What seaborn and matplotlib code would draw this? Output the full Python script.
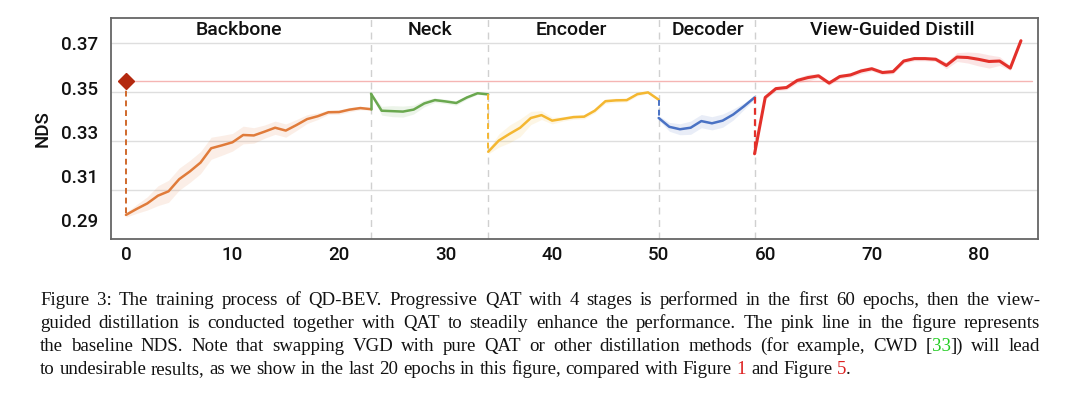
import re
import matplotlib
matplotlib.use('Agg')
import matplotlib.pyplot as plt
import seaborn as sns

# ---- data ----
baseline_nds = 0.353

backbone_epoch = list(range(0, 24))
backbone_nds = [0.2923, 0.2950, 0.2975, 0.3010, 0.3030, 0.3085, 0.3120, 0.3160,
                0.3225, 0.3238, 0.3252, 0.3285, 0.3283, 0.3300, 0.3318, 0.3305,
                0.3330, 0.3357, 0.3370, 0.3388, 0.3389, 0.3400, 0.3407, 0.3402]
backbone_band = [0.001, 0.002, 0.003, 0.0045, 0.005, 0.005, 0.005, 0.005,
                 0.005, 0.0045, 0.004, 0.004, 0.0035, 0.003, 0.003, 0.003,
                 0.0025, 0.002, 0.0015, 0.001, 0.001, 0.001, 0.0008, 0.0005]

neck_epoch = list(range(23, 35))
neck_nds = [0.3472, 0.3395, 0.3393, 0.3391, 0.3400, 0.3428, 0.3443, 0.3437,
            0.3430, 0.3455, 0.3474, 0.3469]
neck_band = [0.0005, 0.002, 0.0025, 0.0025, 0.002, 0.0015, 0.001, 0.001,
             0.001, 0.0008, 0.0005, 0.0005]

encoder_epoch = list(range(34, 51))
encoder_nds = [0.3209, 0.3260, 0.3290, 0.3318, 0.3362, 0.3375, 0.3350, 0.3358,
               0.3366, 0.3368, 0.3395, 0.3438, 0.3442, 0.3443, 0.3470, 0.3478, 0.3445]
encoder_band = [0.001, 0.003, 0.004, 0.004, 0.003, 0.002, 0.0015, 0.001,
                0.001, 0.001, 0.001, 0.001, 0.001, 0.0008, 0.0008, 0.0005, 0.0005]

decoder_epoch = list(range(50, 60))
decoder_nds = [0.3362, 0.3322, 0.3311, 0.3318, 0.3348, 0.3338, 0.3350, 0.3378,
               0.3415, 0.3455]
decoder_band = [0.001, 0.002, 0.0025, 0.003, 0.003, 0.003, 0.003, 0.0025,
                0.0015, 0.0008]

vgd_epoch = list(range(59, 85))
vgd_nds = [0.3200, 0.3455, 0.3495, 0.3500, 0.3532, 0.3545, 0.3553, 0.3520,
           0.3550, 0.3557, 0.3575, 0.3585, 0.3568, 0.3572, 0.3620, 0.3631,
           0.3631, 0.3628, 0.3600, 0.3638, 0.3636, 0.3628, 0.3618, 0.3620,
           0.3588, 0.3712]
vgd_band = [0.0005, 0.001, 0.001, 0.001, 0.0012, 0.0015, 0.001, 0.001,
            0.001, 0.001, 0.0012, 0.001, 0.001, 0.001, 0.001, 0.001,
            0.001, 0.001, 0.0015, 0.002, 0.0025, 0.003, 0.003, 0.002,
            0.001, 0.0005]

stage_names = ['Backbone', 'Neck', 'Encoder', 'Decoder', 'View-Guided Distill']
stage_label_x = [10.6, 28.5, 41.8, 54.6, 71.9]
stage_bounds = [23, 34, 50, 59]
y_ticks = [0.29, 0.31, 0.33, 0.35, 0.37]
grid_y = [0.37, 0.3478, 0.3256, 0.3034]
x_ticks = [0, 10, 20, 30, 40, 50, 60, 70, 80]

caption_lines = [
    "Figure 3: The training process of QD-BEV. Progressive QAT with 4 stages is performed in the first 60 epochs, then the view-",
    "guided distillation is conducted together with QAT to steadily enhance the performance. The pink line in the figure represents",
    "the baseline NDS. Note that swapping VGD with pure QAT or other distillation methods (for example, CWD [{g:33}]) will lead",
    "to undesirable results, as we show in the last 20 epochs in this figure, compared with Figure {r:1} and Figure {r:5}.",
]

colors = {
    'orange': '#e07b3a', 'green': '#6aa84f', 'yellow': '#f4b731',
    'blue': '#4a72c4', 'red': '#e3302a',
}

# ---- plotting ----
sns.set_style('white')
plt.rcParams['font.family'] = ['Roboto', 'Liberation Sans', 'DejaVu Sans']
plt.rcParams['font.weight'] = 'medium'

fig = plt.figure(figsize=(10.8, 4.05), dpi=100)
ax = fig.add_axes([0.1028, 0.4099, 0.8583, 0.5457])

for gy in grid_y:
    ax.axhline(gy, color='#dedede', lw=1, zorder=0)
for xb in stage_bounds:
    ax.axvline(xb, color='#d0d0d0', lw=1, ls=(0, (5, 4)), zorder=0)

# baseline
ax.plot([0, 85], [baseline_nds, baseline_nds], color='#f5b5b3', lw=1, zorder=1)

stages = [
    (backbone_epoch, backbone_nds, backbone_band, colors['orange'], 1.8),
    (neck_epoch, neck_nds, neck_band, colors['green'], 1.8),
    (encoder_epoch, encoder_nds, encoder_band, colors['yellow'], 1.8),
    (decoder_epoch, decoder_nds, decoder_band, colors['blue'], 1.8),
    (vgd_epoch, vgd_nds, vgd_band, colors['red'], 2.2),
]
for ep, nds, band, c, lw in stages:
    lo = [v - b for v, b in zip(nds, band)]
    hi = [v + b for v, b in zip(nds, band)]
    ax.fill_between(ep, lo, hi, color=c, alpha=0.12, lw=0, zorder=2)
    sns.lineplot(x=ep, y=nds, ax=ax, color=c, lw=lw, zorder=3)

# transitions between stages
ax.plot([0, 0], [baseline_nds, backbone_nds[0]], color='#d0692c', lw=1.4, ls=(0, (3, 2)), zorder=3)
ax.plot([23, 23], [backbone_nds[-1], neck_nds[0]], color=colors['green'], lw=1.8, zorder=3)
ax.plot([34, 34], [neck_nds[-1], encoder_nds[0]], color=colors['yellow'], lw=1.4, ls=(0, (3, 2)), zorder=3)
ax.plot([50, 50], [encoder_nds[-1], decoder_nds[0]], color=colors['blue'], lw=1.4, ls=(0, (3, 2)), zorder=3)
ax.plot([59, 59], [decoder_nds[-1], vgd_nds[0]], color=colors['red'], lw=1.6, ls=(0, (3, 2)), zorder=3)
ax.plot([0], [baseline_nds], marker='D', ms=8, color='#b4290f', zorder=4)

for name, sx in zip(stage_names, stage_label_x):
    ax.text(sx, 0.3762, name, ha='center', va='center', fontsize=14, color='#111111')

ax.set_xlim(-1.4, 85.6)
ax.set_ylim(0.2814, 0.3815)
ax.set_xticks(x_ticks)
ax.set_yticks(y_ticks)
ax.set_yticklabels([f'{v:.2f}' for v in y_ticks])
ax.tick_params(axis='both', length=0, labelsize=13.5, colors='#111111')
ax.tick_params(axis='y', pad=9)
ax.tick_params(axis='x', pad=5)
ax.set_ylabel('NDS', fontsize=13.5, color='#111111', labelpad=7, fontweight='medium')
ax.set_xlabel('')
for sp in ax.spines.values():
    sp.set_color('#666666')
    sp.set_linewidth(1.3)

# ---- caption, justified word by word ----
renderer = fig.canvas.get_renderer()
cap_left, cap_right = 40, 1040
cap_baselines = [305, 328, 351, 374]
cap_size = 13.6
cmap = {'g': '#22cc22', 'r': '#dd2222'}


def segments(word):
    out = []
    for part in re.split(r'(\{[gr]:[^}]*\})', word):
        if not part:
            continue
        m = re.match(r'\{([gr]):([^}]*)\}', part)
        if m:
            out.append((m.group(2), cmap[m.group(1)]))
        else:
            out.append((part, '#111111'))
    return out


for i, line in enumerate(caption_lines):
    y = 1 - cap_baselines[i] / 405
    words = []
    for w in line.split(' '):
        segs = []
        for txt, c in segments(w):
            t = fig.text(0, y, txt, fontsize=cap_size, color=c, va='baseline', ha='left',
                         family=['Liberation Serif', 'DejaVu Serif'], weight='normal')
            segs.append((t, t.get_window_extent(renderer).width))
        words.append(segs)
    total = sum(wd for segs in words for _, wd in segs)
    if i < len(caption_lines) - 1:
        gap = (cap_right - cap_left - total) / (len(words) - 1)
    else:
        gap = cap_size * 100 / 72 * 0.25
    x = cap_left
    for segs in words:
        for t, wd in segs:
            t.set_x(x / 1080)
            x += wd
        x += gap

fig.savefig('out.png', dpi=100)
plt.close(fig)
